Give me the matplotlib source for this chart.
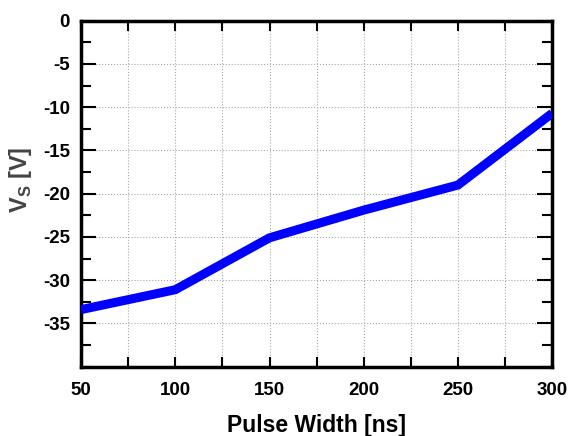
import numpy as np
import matplotlib.pyplot as plt
from matplotlib.ticker import MultipleLocator, FixedLocator

# data
pulse_width = [50, 100, 150, 200, 250, 300]
vs = [-33.4, -31.1, -25.1, -21.9, -19.0, -10.7]

x_ticks = [50, 100, 150, 200, 250, 300]
y_ticks = [0, -5, -10, -15, -20, -25, -30, -35]

plt.rcParams['font.family'] = ['Liberation Sans', 'DejaVu Sans']
plt.rcParams['font.weight'] = 'bold'

fig = plt.figure(figsize=(5.71, 4.36), dpi=100)
ax = fig.add_axes([0.142, 0.159, 0.825, 0.7935])

ax.plot(pulse_width, vs, color='#0000ff', lw=6.5, solid_joinstyle='miter', solid_capstyle='butt', zorder=3)

ax.set_xlim(50, 300)
ax.set_ylim(-40, 0)

ax.xaxis.set_major_locator(FixedLocator(x_ticks))
ax.xaxis.set_minor_locator(MultipleLocator(25))
ax.yaxis.set_major_locator(FixedLocator(y_ticks))
ax.yaxis.set_minor_locator(MultipleLocator(2.5))
ax.set_xticklabels([str(t) for t in x_ticks])
ax.set_yticklabels([str(t) for t in y_ticks])

ax.grid(True, which='major', axis='y', color='#aaaaaa', ls=':', lw=0.8)
ax.grid(True, which='both', axis='x', color='#aaaaaa', ls=':', lw=0.8)

ax.tick_params(which='both', direction='in', top=True, right=True, width=1.5, labelsize=13.5)
ax.tick_params(axis='y', which='major', length=11, pad=8)
ax.tick_params(axis='y', which='minor', length=7)
ax.tick_params(axis='x', which='both', length=7, pad=11)

for s in ax.spines.values():
    s.set_linewidth(2.5)

ax.set_xlabel('Pulse Width [ns]', fontsize=16.5, fontweight='bold', labelpad=11)
ax.set_ylabel(r'V$_\mathregular{S}$ [V]', fontsize=17, fontweight='bold', color='#444444')
ax.yaxis.set_label_coords(-0.10, 0.54)

fig.savefig('out.png', dpi=100)
